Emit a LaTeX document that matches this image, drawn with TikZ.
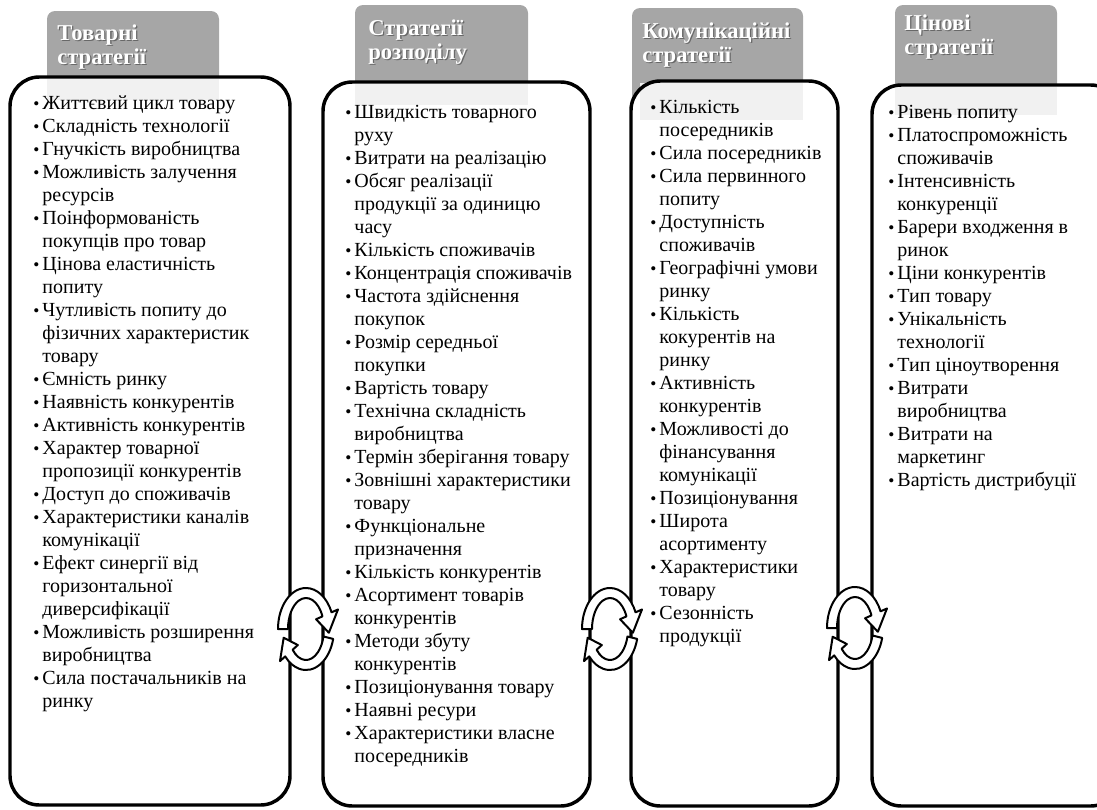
\documentclass[tikz,border=0pt]{standalone}
\usepackage{fontspec}
\setmainfont{Liberation Serif}
\definecolor{tabgray}{HTML}{A6A6A6}
\definecolor{tabghost}{HTML}{F1F1F1}
\newlength\bulw
\setlength\bulw{6.9pt}
\newcommand\itemdot{\makebox[\bulw][l]{\raisebox{0.2pt}{\fontsize{13}{13}\selectfont\textbullet}}}
\newcommand\itemgap{\hspace*{\bulw}}
\begin{document}
\begin{tikzpicture}[x=0.75pt,y=-0.75pt,
  panel/.style={draw=black, line width=2.6pt, rounded corners=22pt},
  tab/.style={fill=tabgray, rounded corners=6pt},
  ghost/.style={fill=tabghost},
  tabtext/.style={anchor=north west, inner sep=0pt, align=left, text=white,
    font=\fontsize{17}{18}\selectfont\bfseries},
  tabshadow/.style={tabtext, text=black!75, opacity=0.6},
  listtext/.style={anchor=north west, inner sep=0pt, align=left,
    font=\fontsize{15}{17.25}\selectfont},
  band/.style={draw=black, line width=1.5pt, fill=white, line join=round}]

\useasboundingbox (0,0) rectangle (1097,810);
\clip (0,0) rectangle (1097,810);

% header tabs behind the panels
\fill[tab] (47,11) rectangle (219,100);
\fill[tab] (355,5) rectangle (528,105);
\fill[tab] (632,8) rectangle (803,120);
\fill[tab] (895,5) rectangle (1057,115);

% panel bodies
\fill[white, rounded corners=22pt] (10,77) rectangle (290,805);
\fill[white, rounded corners=22pt] (323,82) rectangle (590,806);
\fill[white, rounded corners=22pt] (631,81) rectangle (838,806);
\fill[white, rounded corners=22pt] (872,85) rectangle (1120,806);

% faint continuation of the tabs inside the panels
\fill[ghost] (47,79) rectangle (219,100);
\fill[ghost] (355,84) rectangle (528,105);
\fill[ghost] (640,83) rectangle (803,120);
\fill[ghost] (895,87) rectangle (1057,115);

% panel outlines
\draw[panel] (10,77) rectangle (290,805);
\draw[panel] (323,82) rectangle (590,806);
\draw[panel] (631,81) rectangle (838,806);
\draw[panel] (872,85) rectangle (1120,806);

% tab captions (top of first line = baseline - strut height)
\foreach \px/\py/\txt/\nm in {57/23/{Товарні\\стратегії}/t1,
                              368/18/{Стратегії\\розподілу}/t2,
                              642/21/{Комунікаційні\\стратегії}/t3,
                              904/13/{Цінові\\стратегії}/t4}{
  \node[tabshadow] at (\px+1.3,\py+1.3) {\strut\txt};
  \node[tabtext] (\nm) at (\px,\py) {\strut\txt};
}

% factor lists
\node[listtext] (l1) at (33,93.5) {\strut
\itemdot Життєвий цикл товару\\
\itemdot Складність технології\\
\itemdot Гнучкість виробництва\\
\itemdot Можливість залучення\\
\itemgap ресурсів\\
\itemdot Поінформованість\\
\itemgap покупців про товар\\
\itemdot Цінова еластичність\\
\itemgap попиту\\
\itemdot Чутливість попиту до\\
\itemgap фізичних характеристик\\
\itemgap товару\\
\itemdot Ємність ринку\\
\itemdot Наявність конкурентів\\
\itemdot Активність конкурентів\\
\itemdot Характер товарної\\
\itemgap пропозиції конкурентів\\
\itemdot Доступ до споживачів\\
\itemdot Характеристики каналів\\
\itemgap комунікації\\
\itemdot Ефект синергії від\\
\itemgap горизонтальної\\
\itemgap диверсифікації\\
\itemdot Можливість розширення\\
\itemgap виробництва\\
\itemdot Сила постачальників на\\
\itemgap ринку};

\node[listtext] (l2) at (345,102.5) {\strut
\itemdot Швидкість товарного\\
\itemgap руху\\
\itemdot Витрати на реалізацію\\
\itemdot Обсяг реалізації\\
\itemgap продукції за одиницю\\
\itemgap часу\\
\itemdot Кількість споживачів\\
\itemdot Концентрація споживачів\\
\itemdot Частота здійснення\\
\itemgap покупок\\
\itemdot Розмір середньої\\
\itemgap покупки\\
\itemdot Вартість товару\\
\itemdot Технічна складність\\
\itemgap виробництва\\
\itemdot Термін зберігання товару\\
\itemdot Зовнішні характеристики\\
\itemgap товару\\
\itemdot Функціональне\\
\itemgap призначення\\
\itemdot Кількість конкурентів\\
\itemdot Асортимент товарів\\
\itemgap конкурентів\\
\itemdot Методи збуту\\
\itemgap конкурентів\\
\itemdot Позиціонування товару\\
\itemdot Наявні ресури\\
\itemdot Характеристики власне\\
\itemgap посередників};

\node[listtext] (l3) at (650,97.5) {\strut
\itemdot Кількість\\
\itemgap посередників\\
\itemdot Сила посередників\\
\itemdot Сила первинного\\
\itemgap попиту\\
\itemdot Доступність\\
\itemgap споживачів\\
\itemdot Географічні умови\\
\itemgap ринку\\
\itemdot Кількість\\
\itemgap кокурентів на\\
\itemgap ринку\\
\itemdot Активність\\
\itemgap конкурентів\\
\itemdot Можливості до\\
\itemgap фінансування\\
\itemgap комунікації\\
\itemdot Позиціонування\\
\itemdot Широта\\
\itemgap асортименту\\
\itemdot Характеристики\\
\itemgap товару\\
\itemdot Сезонність\\
\itemgap продукції};

\node[listtext] (l4) at (888,102.5) {\strut
\itemdot Рівень попиту\\
\itemdot Платоспроможність\\
\itemgap споживачів\\
\itemdot Інтенсивність\\
\itemgap конкуренції\\
\itemdot Барери входження в\\
\itemgap ринок\\
\itemdot Ціни конкурентів\\
\itemdot Тип товару\\
\itemdot Унікальність\\
\itemgap технології\\
\itemdot Тип ціноутворення\\
\itemdot Витрати\\
\itemgap виробництва\\
\itemdot Витрати на\\
\itemgap маркетинг\\
\itemdot Вартість дистрибуції};

% paired circular arrows between neighbouring panels
\foreach \cx/\cy in {306/629, 610/629, 855/628}{
  \begin{scope}[shift={(\cx,\cy)}, yscale=-1]
    % upper arc, head on the right pointing down
    \draw[band] (180:28 and 41)
      arc[start angle=180, end angle=24, x radius=28, y radius=41]
      -- (24:35 and 48) -- (-6:23 and 36) -- (24:11 and 24)
      -- (24:18 and 31)
      arc[start angle=24, end angle=180, x radius=18, y radius=31] -- cycle;
    % lower arc, head on the left pointing up
    \draw[band] (-14:28 and 41)
      arc[start angle=-14, end angle=-138, x radius=28, y radius=41]
      -- (-138:35 and 48) -- (-166:23 and 36) -- (-138:11 and 24)
      -- (-138:18 and 31)
      arc[start angle=-138, end angle=-14, x radius=18, y radius=31] -- cycle;
  \end{scope}
}
\end{tikzpicture}
\end{document}
